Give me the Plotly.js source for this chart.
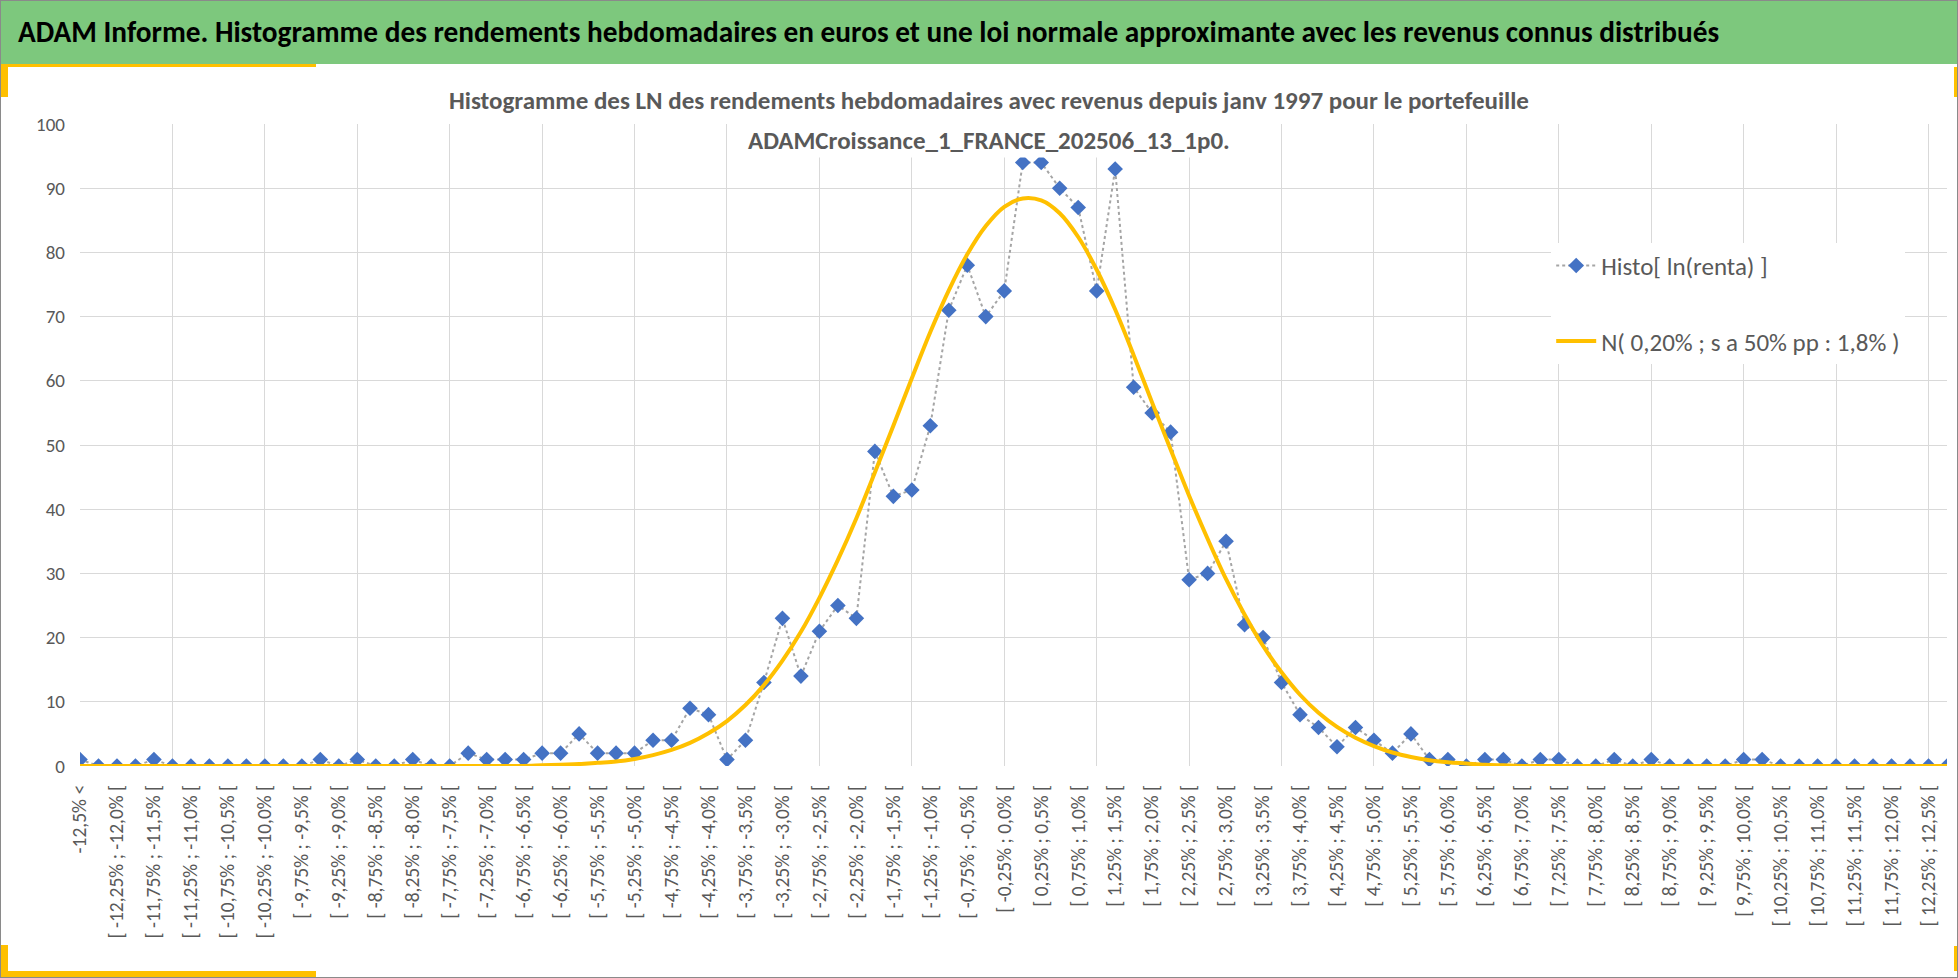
<!DOCTYPE html>
<html>
<head>
<meta charset="utf-8">
<script src="https://cdn.plot.ly/plotly-3.0.1.min.js"></script>
<style>
  html, body { margin: 0; padding: 0; background: #fff; }
  #frame { position: relative; width: 1958px; height: 978px; box-sizing: border-box;
           border: 1px solid #8a8a8a; overflow: hidden; }
  #head { position: absolute; left: 0; top: 0; width: 100%; height: 63px; background: #7DC87D;
          font-family: Carlito, 'Liberation Sans Narrow', 'Liberation Sans', sans-serif;
          font-weight: bold; font-size: 29.3px; color: #000; line-height: 63px; padding-left: 17px;
          box-sizing: border-box; white-space: nowrap; z-index: 2; }
  .y { position: absolute; background: #FFC000; z-index: 3; }
  #chart { position: absolute; left: 0; top: 0; width: 1958px; height: 978px; }
</style>
</head>
<body>
<div id="frame">
  <div id="chart"></div>
  <div id="head">ADAM Informe. Histogramme des rendements hebdomadaires en euros et une loi normale approximante avec les revenus connus distribués</div>
  <div class="y" style="left:0;top:63px;width:315px;height:3px"></div>
  <div class="y" style="left:0;top:63px;width:7px;height:33px"></div>
  <div class="y" style="left:0;top:944px;width:7px;height:34px"></div>
  <div class="y" style="left:0;top:970px;width:315px;height:8px"></div>
  <div class="y" style="right:0;top:66px;width:3px;height:30px"></div>
  <div class="y" style="right:0;top:945px;width:3px;height:25px"></div>
</div>
<script>
/* ── Data: weekly log-return histogram, bins of 0.25% ─────── */
const HISTO = [
  1, 0, 0, 0, 1, 0, 0, 0, 0, 0, 0, 0, 0, 1, 0, 1, 0, 0, 1, 0,
  0, 2, 1, 1, 1, 2, 2, 5, 2, 2, 2, 4, 4, 9, 8, 1, 4, 13, 23, 14,
  21, 25, 23, 49, 42, 43, 53, 71, 78, 70, 74, 94, 94, 90, 87, 74, 93, 59, 55, 52,
  29, 30, 35, 22, 20, 13, 8, 6, 3, 6, 4, 2, 5, 1, 1, 0, 1, 1, 0, 1,
  1, 0, 0, 1, 0, 1, 0, 0, 0, 0, 1, 1, 0, 0, 0, 0, 0, 0, 0, 0,
  0, 0
];
const NORMAL = [
  0, 0, 0, 0, 0, 0, 0, 0, 0, 0, 0, 0, 0, 0, 0, 0, 0, 0, 0, 0,
  0, 0, 0, 0, 0, 0.1, 0.2, 0.3, 0.5, 0.7, 1.1, 1.7, 2.5, 3.6, 5.1, 7.0, 9.5, 12.6, 16.4, 20.9,
  26.2, 32.1, 38.6, 45.7, 53.0, 60.4, 67.6, 74.1, 79.7, 84.1, 87.1, 88.4, 88.1, 86.1, 82.4, 77.3, 71.1, 64.0, 56.6, 49.3,
  42.1, 35.4, 29.1, 23.6, 18.7, 14.6, 11.1, 8.3, 6.1, 4.4, 3.1, 2.1, 1.4, 0.9, 0.6, 0.4, 0.2, 0.1, 0, 0,
  0, 0, 0, 0, 0, 0, 0, 0, 0, 0, 0, 0, 0, 0, 0, 0, 0, 0, 0, 0,
  0, 0
];

/* ── Bin labels: "-12,5% <", "[ a ; b [", "> 12,5%" ────────── */
function pct(v) {
  const s = (Math.round(v * 100) % 50 === 0) ? v.toFixed(1) : v.toFixed(2);
  return s.replace('.', ',') + '%';
}
const LABELS = HISTO.map((_, k) => {
  if (k === 0) return '-12,5% <';
  if (k === HISTO.length - 1) return '> 12,5%';
  const lo = -12.5 + 0.25 * (k - 1);
  return '[ ' + pct(lo) + ' ; ' + pct(lo + 0.25) + ' [';
});
const IDX = HISTO.map((_, k) => k);
const TICKS = IDX.filter(k => k % 2 === 0 && k <= 100);

const FONT = "Carlito, 'Liberation Sans Narrow', 'Liberation Sans', sans-serif";
const GREY = '#595959';

const traces = [
  {
    x: IDX, y: HISTO, text: LABELS,
    name: 'Histo[ ln(renta) ]',
    mode: 'lines+markers',
    legendgroup: 'a',
    line: { color: '#A5A5A5', width: 2, dash: 'dot' },
    marker: { symbol: 'diamond', size: 12, color: '#4472C4' },
    hovertemplate: '%{text}: %{y}<extra></extra>'
  },
  {
    x: IDX, y: NORMAL, text: LABELS,
    name: 'N( 0,20% ; s a 50% pp : 1,8% )',
    mode: 'lines',
    legendgroup: 'b',
    line: { color: '#FFC000', width: 4, shape: 'spline' },
    hovertemplate: '%{text}: %{y:.1f}<extra></extra>'
  }
];

const layout = {
  width: 1958, height: 978,
  margin: { l: 79, r: 12, t: 123, b: 213 },
  paper_bgcolor: 'rgba(0,0,0,0)', plot_bgcolor: '#fff',
  font: { family: FONT, color: GREY, size: 19 },
  showlegend: true,
  legend: {
    x: 0.788, y: 0.815, xanchor: 'left', yanchor: 'top',
    bgcolor: '#fff', font: { size: 25, color: GREY },
    traceorder: 'grouped', tracegroupgap: 40, itemwidth: 40
  },
  xaxis: {
    range: [0, 101],
    tickmode: 'array', tickvals: TICKS, ticktext: TICKS.map(k => LABELS[k]),
    tickangle: -90, showgrid: false, zeroline: false, showline: false,
    ticks: '', ticklabelstandoff: 14,
    tickfont: { size: 19.5, color: GREY },
    minor: { dtick: 5, tick0: 0, showgrid: true, gridcolor: '#D9D9D9', gridwidth: 1 }
  },
  yaxis: {
    range: [0, 100], dtick: 10, gridcolor: '#D9D9D9', zeroline: false,
    ticks: '', ticklabelstandoff: 14, tickfont: { size: 19, color: GREY }
  },
  annotations: [
    {
      xref: 'paper', yref: 'paper', x: 0.487, y: 1.036, xanchor: 'center', yanchor: 'middle',
      text: '<b>Histogramme des LN des rendements hebdomadaires avec revenus depuis janv 1997 pour le portefeuille</b>',
      showarrow: false, bgcolor: '#fff', font: { size: 25, color: GREY }
    },
    {
      xref: 'paper', yref: 'paper', x: 0.487, y: 0.974, xanchor: 'center', yanchor: 'middle',
      text: '<b>ADAMCroissance_1_FRANCE_202506_13_1p0.</b>',
      showarrow: false, bgcolor: '#fff', font: { size: 25, color: GREY }
    }
  ]
};

Plotly.newPlot('chart', traces, layout, { displayModeBar: false, staticPlot: true });
</script>
</body>
</html>
